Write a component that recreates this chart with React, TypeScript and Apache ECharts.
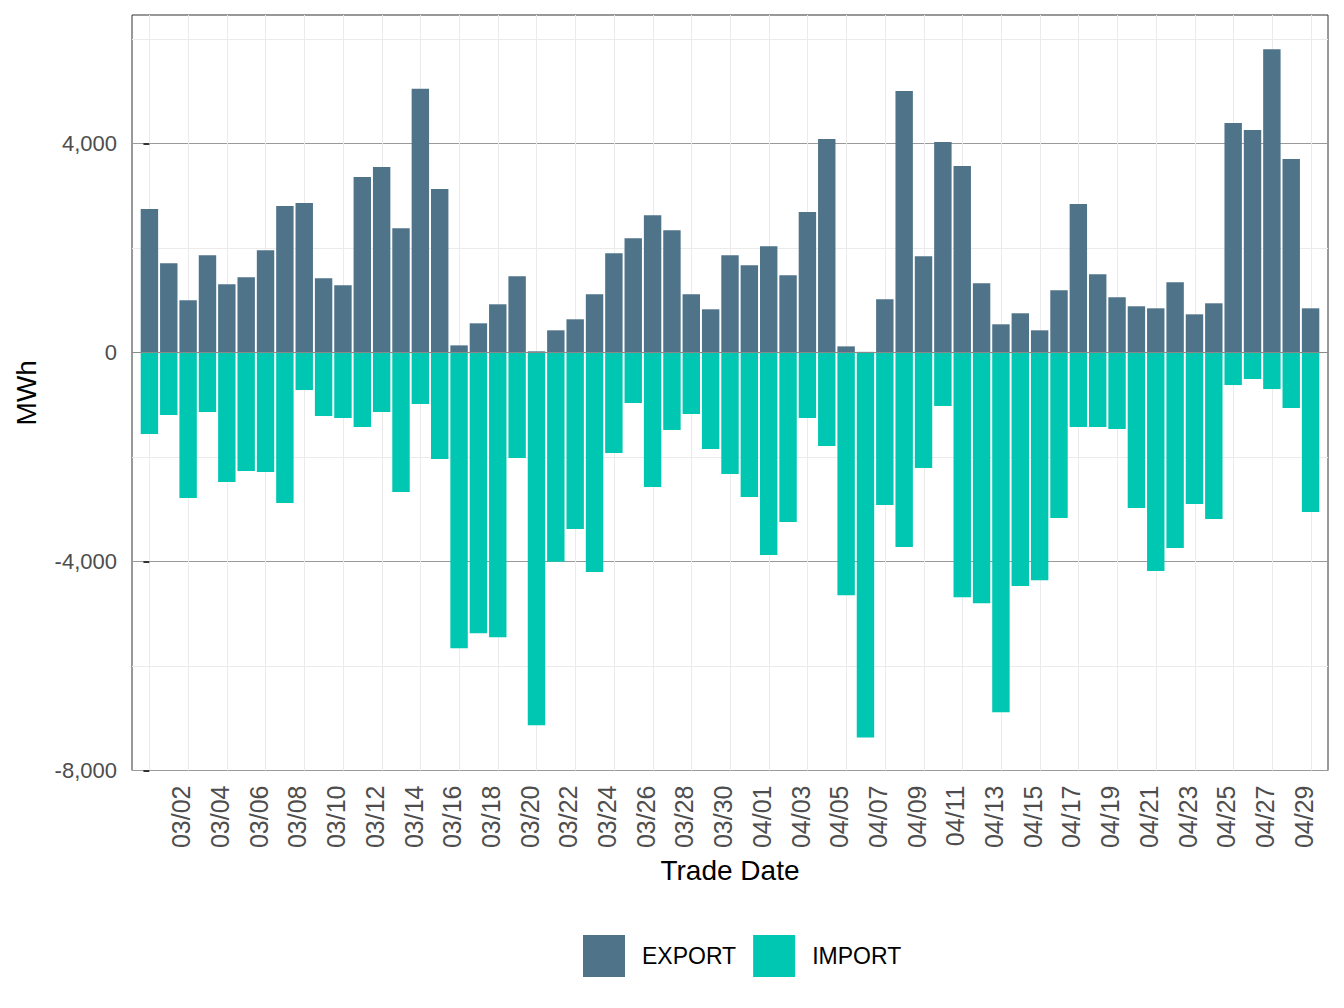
import { useEffect, useRef } from 'react';
import * as echarts from 'echarts';

// Trade dates, one bar pair per day
const tradeDates = [
  '03/01', '03/02', '03/03', '03/04', '03/05', '03/06', '03/07', '03/08', '03/09', '03/10',
  '03/11', '03/12', '03/13', '03/14', '03/15', '03/16', '03/17', '03/18', '03/19', '03/20',
  '03/21', '03/22', '03/23', '03/24', '03/25', '03/26', '03/27', '03/28', '03/29', '03/30',
  '03/31', '04/01', '04/02', '04/03', '04/04', '04/05', '04/06', '04/07', '04/08', '04/09',
  '04/10', '04/11', '04/12', '04/13', '04/14', '04/15', '04/16', '04/17', '04/18', '04/19',
  '04/20', '04/21', '04/22', '04/23', '04/24', '04/25', '04/26', '04/27', '04/28', '04/29',
  '04/30',
];

// Daily exported energy (MWh)
const exportMWh = [
  2741, 1706, 997, 1859, 1304, 1438, 1955, 2799, 2856, 1419,
  1284, 3355, 3546, 2377, 5042, 3125, 134, 556, 920, 1457,
  20, 422, 633, 1112, 1898, 2185, 2626, 2339, 1112, 824,
  1859, 1668, 2032, 1476, 2684, 4083, 115, 10, 1016, 5003,
  1840, 4026, 3566, 1323, 537, 748, 422, 1189, 2837, 1495,
  1054, 882, 843, 1342, 728, 939, 4390, 4256, 5800, 3700,
  843,
];

// Daily imported energy (MWh, drawn below zero)
const importMWh = [
  -1563, -1199, -2788, -1142, -2482, -2271, -2290, -2884, -721, -1219,
  -1257, -1429, -1142, -2673, -989, -2042, -5659, -5372, -5449, -2022,
  -7133, -4007, -3381, -4204, -1927, -970, -2578, -1487, -1180, -1850,
  -2329, -2769, -3879, -3247, -1257, -1793, -4645, -7370, -2922, -3726,
  -2214, -1027, -4683, -4798, -6884, -4472, -4358, -3171, -1429, -1429,
  -1467, -2979, -4185, -3745, -2903, -3190, -625, -510, -702, -1065,
  -3056,
];

// Labelled y ticks
const yTickValues = [-8000, -4000, 0, 4000];

const EXPORT_COLOR = '#4F7389';
const IMPORT_COLOR = '#00C7B2';
const FONT = '"Liberation Sans", Arial, Helvetica, sans-serif';

export default function App() {
  const ref = useRef<HTMLDivElement>(null);

  useEffect(() => {
    if (!ref.current) return;
    const chart = echarts.init(ref.current, undefined, { renderer: 'svg' });

    // every second day gets a tick and a label (03/02, 03/04, ...)
    const labelIdx = tradeDates.map((_, i) => i).filter((i) => i % 2 === 1);
    // vertical guide bands span two days each, from 03/01 to 04/30
    const guideBands = tradeDates.filter((_, i) => i % 2 === 0).slice(0, -1);
    const xMin = -0.9;
    const xMax = tradeDates.length - 1 + 0.9;

    chart.setOption({
      animation: false,
      backgroundColor: '#ffffff',
      textStyle: { fontFamily: FONT },
      grid: [
        {
          left: 132,
          right: 16,
          top: 15,
          bottom: 237.5,
          show: true,
          borderColor: '#333333',
          borderWidth: 1,
          backgroundColor: 'transparent',
        },
        {
          left: 149.5,
          right: 33,
          top: 15,
          bottom: 237.5,
        },
      ],
      legend: {
        data: ['EXPORT', 'IMPORT'],
        orient: 'horizontal',
        left: 583,
        top: 935,
        padding: 0,
        itemWidth: 42,
        itemHeight: 42,
        itemGap: 17,
        icon: 'rect',
        textStyle: {
          fontSize: 23,
          color: '#000000',
          fontFamily: FONT,
          padding: [0, 0, 0, 12],
        },
      },
      xAxis: [
        {
          type: 'value',
          gridIndex: 0,
          min: xMin,
          max: xMax,
          name: 'Trade Date',
          nameLocation: 'middle',
          nameGap: 100,
          nameMoveOverlap: false,
          nameTextStyle: {
            fontSize: 28,
            color: '#000000',
            fontFamily: FONT,
            verticalAlign: 'middle',
          },
          axisLine: { show: false },
          splitLine: { show: false },
          axisTick: {
            show: true,
            customValues: labelIdx,
            length: 6,
            lineStyle: { color: '#333333', width: 2 },
          },
          axisLabel: {
            customValues: labelIdx,
            rotate: 90,
            margin: 15,
            verticalAlign: 'top',
            fontSize: 25,
            color: '#4D4D4D',
            fontFamily: FONT,
            formatter: (v: number) => tradeDates[Math.round(v)] ?? '',
          },
        },
        {
          type: 'category',
          gridIndex: 1,
          data: guideBands,
          boundaryGap: true,
          axisLine: { show: false },
          axisTick: { show: false },
          axisLabel: { show: false },
          splitLine: {
            show: true,
            interval: 0,
            lineStyle: { color: '#EBEBEB', width: 1 },
          },
        },
      ],
      yAxis: [
        {
          type: 'value',
          gridIndex: 0,
          min: -8000,
          max: 6455,
          interval: 4000,
          name: 'MWh',
          nameLocation: 'middle',
          nameGap: 106,
          nameRotate: 90,
          nameMoveOverlap: false,
          nameTextStyle: {
            fontSize: 28,
            color: '#000000',
            fontFamily: FONT,
            verticalAlign: 'middle',
          },
          axisLine: { show: false },
          axisTick: {
            show: true,
            customValues: yTickValues,
            length: 6,
            lineStyle: { color: '#333333', width: 2 },
          },
          axisLabel: {
            customValues: yTickValues,
            margin: 15,
            fontSize: 22,
            color: '#4D4D4D',
            fontFamily: FONT,
            formatter: (v: number) => v.toLocaleString('en-US'),
          },
          splitLine: {
            show: true,
            lineStyle: { color: '#9A9A9A', width: 1 },
          },
          minorTick: { show: false, splitNumber: 2 },
          minorSplitLine: {
            show: true,
            lineStyle: { color: '#EBEBEB', width: 1 },
          },
        },
        {
          type: 'value',
          gridIndex: 1,
          show: false,
        },
      ],
      series: [
        {
          name: 'EXPORT',
          type: 'bar',
          xAxisIndex: 0,
          yAxisIndex: 0,
          stack: 'flow',
          barWidth: '90%',
          itemStyle: { color: EXPORT_COLOR },
          data: exportMWh.map((v, i) => [i, v]),
        },
        {
          name: 'IMPORT',
          type: 'bar',
          xAxisIndex: 0,
          yAxisIndex: 0,
          stack: 'flow',
          barWidth: '90%',
          itemStyle: { color: IMPORT_COLOR },
          data: importMWh.map((v, i) => [i, v]),
          markLine: {
            silent: true,
            symbol: ['none', 'none'],
            label: { show: false },
            lineStyle: { color: '#8A8A8A', width: 1, type: 'solid' },
            data: [[{ coord: [xMin, 0] }, { coord: [xMax, 0] }]],
          },
        },
      ],
    });

    return () => chart.dispose();
  }, []);

  return (
    <div
      ref={ref}
      style={{ position: 'fixed', left: 0, top: 0, width: 1344, height: 1008, background: '#ffffff' }}
    />
  );
}
